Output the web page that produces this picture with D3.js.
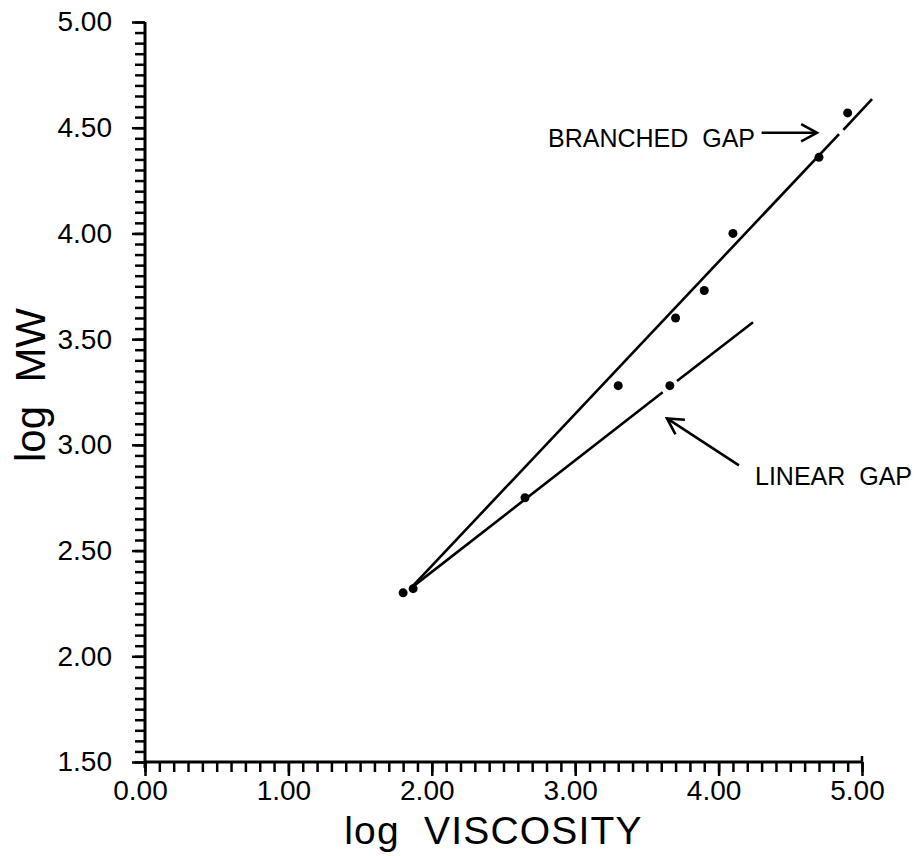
<!DOCTYPE html>
<html>
<head>
<meta charset="utf-8">
<script src="https://cdn.jsdelivr.net/npm/d3@7"></script>
<style>
  body { margin: 0; background: #fff; }
  text { font-family: "Liberation Sans", Arial, sans-serif; fill: #000; white-space: pre; }
</style>
</head>
<body>
<script>
// data (log viscosity, log MW)
var branchedPts = [[1.80, 2.30], [3.30, 3.28], [3.70, 3.60], [3.90, 3.73], [4.10, 4.00], [4.70, 4.36], [4.90, 4.57]];
var linearPts = [[1.87, 2.32], [2.65, 2.75], [3.66, 3.28]];

// fitted lines, drawn as segments (gaps left where the plotter skipped)
var branchedFit = [[[1.85, 2.32], [4.84, 4.47]], [[4.87, 4.49], [5.07, 4.635]]];
var linearFit = [[[1.85, 2.32], [3.61, 3.249]], [[3.71, 3.302], [4.24, 3.58]]];

var xTicks = [0, 1, 2, 3, 4, 5];
var yTicks = [1.5, 2, 2.5, 3, 3.5, 4, 4.5, 5];

// annotations in data units
var notes = [
  {text: 'BRANCHED  GAP', x: 4.254, y: 4.41, anchor: 'end'},
  {text: 'LINEAR  GAP', x: 4.254, y: 2.808, anchor: 'start'}
];
var arrows = [
  {from: [4.30, 4.476], to: [4.686, 4.476]},
  {from: [4.142, 2.903], to: [3.640, 3.125]}
];

var W = 918, H = 856;
var margin = {left: 145, top: 22, right: 56, bottom: 94};

var x = d3.scaleLinear().domain([0, 5]).range([margin.left, W - margin.right]);
var y = d3.scaleLinear().domain([1.5, 5]).range([H - margin.bottom, margin.top]);

var svg = d3.select('body')
  .append('svg')
  .attr('width', W)
  .attr('height', H);

// minor ticks
var xMinor = d3.range(0, 5.001, 0.1);
var yMinor = d3.range(1.5, 5.001, 0.05);

svg.append('g')
  .attr('transform', 'translate(0,' + y(1.5) + ')')
  .call(d3.axisBottom(x).tickValues(xMinor).tickSize(10).tickSizeOuter(0).tickFormat(''))
  .call(function(g) {
    g.select('.domain').attr('stroke-width', 3).attr('d', 'M' + (x(0) - 1) + ',0H' + x(5));
    g.selectAll('.tick line').attr('stroke-width', 2.5);
  });

svg.append('g')
  .attr('transform', 'translate(' + x(0) + ',0)')
  .call(d3.axisLeft(y).tickValues(yMinor).tickSize(10).tickSizeOuter(0).tickFormat(''))
  .call(function(g) {
    g.select('.domain').attr('stroke-width', 3).attr('d', 'M0,' + (y(1.5) + 6) + 'V' + y(5));
    g.selectAll('.tick line').attr('stroke-width', 2.5);
  });

// major ticks + labels
var xAxis = svg.append('g')
  .attr('transform', 'translate(0,' + y(1.5) + ')')
  .call(d3.axisBottom(x).tickValues(xTicks).tickSize(14).tickSizeOuter(0).tickPadding(4).tickFormat(d3.format('.2f')));
xAxis.select('.domain').remove();
xAxis.selectAll('.tick line').attr('stroke-width', 2.5);
xAxis.selectAll('.tick text').attr('font-size', 28).attr('x', -5);

var yAxis = svg.append('g')
  .attr('transform', 'translate(' + x(0) + ',0)')
  .call(d3.axisLeft(y).tickValues(yTicks).tickSize(13).tickSizeOuter(0).tickPadding(20).tickFormat(d3.format('.2f')));
yAxis.select('.domain').remove();
yAxis.selectAll('.tick line').attr('stroke-width', 2.5);
yAxis.selectAll('.tick text').attr('font-size', 28);

// little hook at the end of the x axis
svg.append('line')
  .attr('x1', x(5)).attr('x2', x(5))
  .attr('y1', y(1.5)).attr('y2', y(1.5) - 6)
  .attr('stroke', '#000').attr('stroke-width', 2.5);

// axis titles
svg.append('text')
  .attr('x', (x(0) + x(5)) / 2 - 10)
  .attr('y', 844)
  .attr('text-anchor', 'middle')
  .attr('font-size', 39)
  .attr('letter-spacing', 1.2)
  .text('log  VISCOSITY');

svg.append('text')
  .attr('transform', 'translate(45,' + 385 + ') rotate(-90)')
  .attr('text-anchor', 'middle')
  .attr('font-size', 42)
  .text('log  MW');

// fitted lines
var line = d3.line()
  .x(function(d) { return x(d[0]); })
  .y(function(d) { return y(d[1]); });

svg.selectAll('path.fit')
  .data(branchedFit.concat(linearFit))
  .enter()
  .append('path')
  .attr('class', 'fit')
  .attr('d', line)
  .attr('fill', 'none')
  .attr('stroke', '#000')
  .attr('stroke-width', 2.6);

// points
svg.selectAll('circle.pt')
  .data(branchedPts.concat(linearPts))
  .enter()
  .append('circle')
  .attr('class', 'pt')
  .attr('cx', function(d) { return x(d[0]); })
  .attr('cy', function(d) { return y(d[1]); })
  .attr('r', 4.5)
  .attr('fill', '#000');

// annotations
svg.selectAll('text.note')
  .data(notes)
  .enter()
  .append('text')
  .attr('class', 'note')
  .attr('x', function(d) { return x(d.x); })
  .attr('y', function(d) { return y(d.y); })
  .attr('text-anchor', function(d) { return d.anchor; })
  .attr('font-size', 25)
  .text(function(d) { return d.text; });

arrows.forEach(function(a) {
  var x1 = x(a.from[0]), y1 = y(a.from[1]), x2 = x(a.to[0]), y2 = y(a.to[1]);
  var ang = Math.atan2(y2 - y1, x2 - x1);
  var len = 18, spread = 0.5;
  svg.append('line')
    .attr('x1', x1).attr('y1', y1).attr('x2', x2).attr('y2', y2)
    .attr('stroke', '#000').attr('stroke-width', 2.6);
  svg.append('path')
    .attr('d', 'M' + (x2 - len * Math.cos(ang - spread)) + ',' + (y2 - len * Math.sin(ang - spread)) +
      'L' + x2 + ',' + y2 +
      'L' + (x2 - len * Math.cos(ang + spread)) + ',' + (y2 - len * Math.sin(ang + spread)))
    .attr('fill', 'none')
    .attr('stroke', '#000')
    .attr('stroke-width', 2.6);
});
</script>
</body>
</html>
